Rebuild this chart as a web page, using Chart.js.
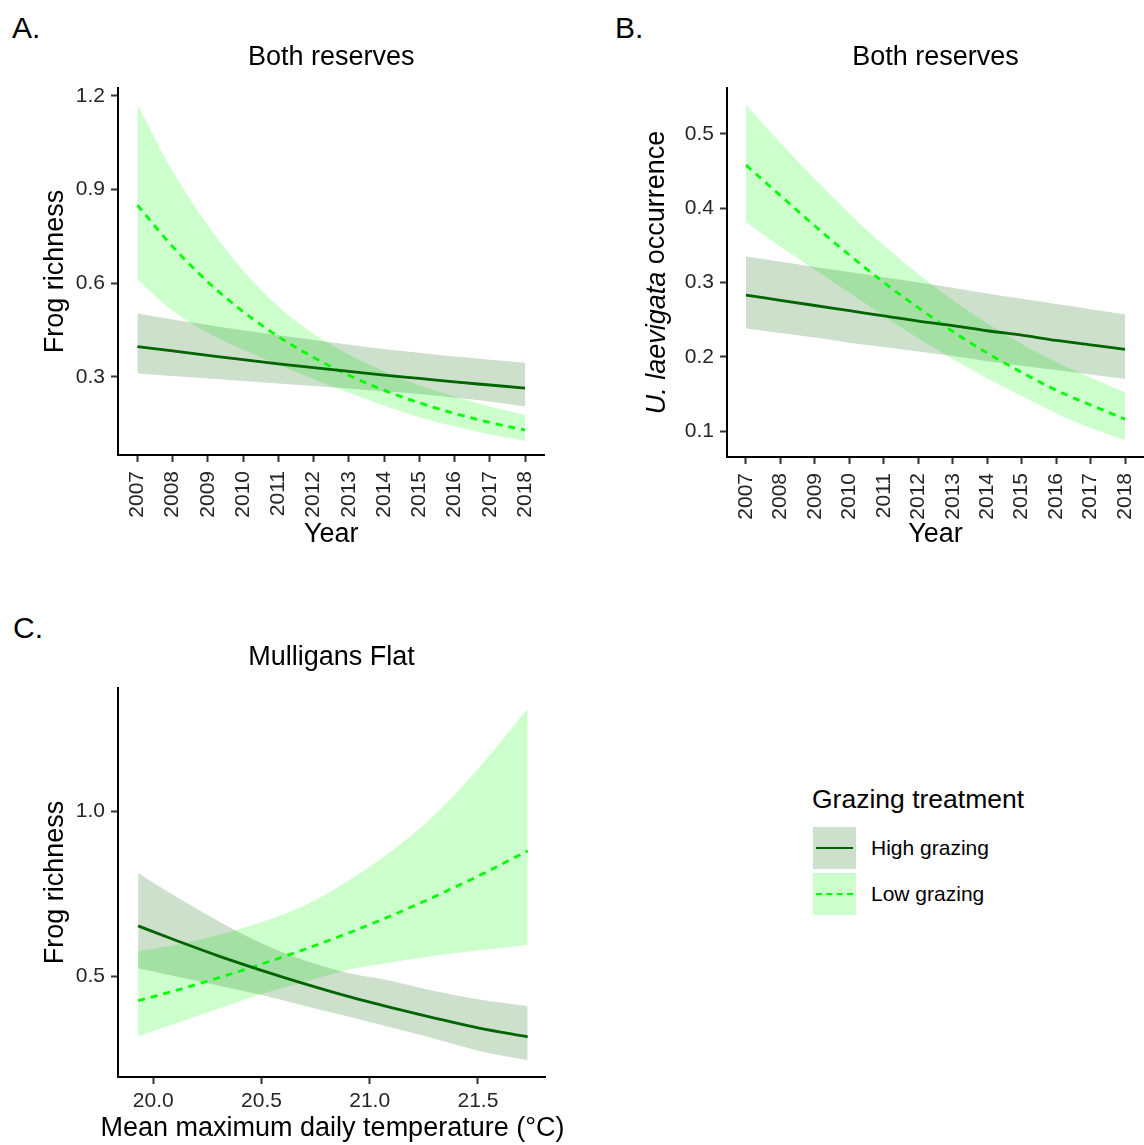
<!DOCTYPE html>
<html>
<head>
<meta charset="utf-8">
<script src="https://cdn.jsdelivr.net/npm/chart.js@4.4.0/dist/chart.umd.min.js"></script>
<style>
  html, body { margin: 0; padding: 0; background: #fff; width: 1144px; height: 1145px; overflow: hidden; }
  body { position: relative; font-family: "Liberation Sans", Arial, sans-serif; color: #000; }
  canvas { position: absolute; }
  .tag { position: absolute; font-size: 30px; line-height: 30px; }
  .legTitle { position: absolute; font-size: 26.5px; line-height: 30px; white-space: nowrap; }
  .legLabel { position: absolute; font-size: 21px; line-height: 24px; white-space: nowrap; }
  .key { position: absolute; width: 43px; height: 42px; }
  .key div { position: absolute; left: 3px; right: 3px; top: 20px; height: 0; }
</style>
</head>
<body>
<div class="tag" style="left:12px;top:13px">A.</div>
<div class="tag" style="left:615px;top:13px">B.</div>
<div class="tag" style="left:13px;top:613px">C.</div>

<canvas id="chartA" width="560" height="560" style="left:0;top:0"></canvas>
<canvas id="chartB" width="560" height="560" style="left:600px;top:0"></canvas>
<canvas id="chartC" width="580" height="545" style="left:0;top:600px"></canvas>

<div class="legTitle" style="left:812px;top:784px">Grazing treatment</div>
<div class="key" style="left:813px;top:827px;background:rgba(0,100,0,0.2)"><div style="border-top:2.5px solid #006400"></div></div>
<div class="key" style="left:813px;top:873px;background:rgba(0,255,0,0.2)"><div style="border-top:2.5px dashed #00ff00"></div></div>
<div class="legLabel" style="left:871px;top:836px">High grazing</div>
<div class="legLabel" style="left:871px;top:882px">Low grazing</div>

<script>
// ---- data ----
var years = [2007, 2008, 2009, 2010, 2011, 2012, 2013, 2014, 2015, 2016, 2017, 2018];

// A. frog richness, both reserves
var aHighMean  = [0.397, 0.383, 0.369, 0.355, 0.342, 0.330, 0.318, 0.306, 0.295, 0.284, 0.274, 0.264];
var aHighUpper = [0.503, 0.484, 0.466, 0.449, 0.433, 0.418, 0.403, 0.389, 0.377, 0.365, 0.355, 0.345];
var aHighLower = [0.311, 0.303, 0.295, 0.287, 0.279, 0.271, 0.263, 0.254, 0.245, 0.234, 0.221, 0.205];
var aLowMean   = [0.850, 0.717, 0.604, 0.509, 0.429, 0.362, 0.305, 0.257, 0.217, 0.183, 0.154, 0.130];
var aLowUpper  = [1.173, 0.958, 0.785, 0.640, 0.525, 0.437, 0.372, 0.318, 0.273, 0.237, 0.205, 0.178];
var aLowLower  = [0.612, 0.512, 0.441, 0.387, 0.339, 0.293, 0.249, 0.208, 0.171, 0.141, 0.116, 0.095];

// B. U. laevigata occurrence, both reserves
var bHighMean  = [0.283, 0.276, 0.269, 0.262, 0.255, 0.248, 0.242, 0.235, 0.229, 0.222, 0.216, 0.210];
var bHighUpper = [0.335, 0.328, 0.321, 0.314, 0.307, 0.300, 0.293, 0.285, 0.278, 0.271, 0.264, 0.257];
var bHighLower = [0.238, 0.232, 0.226, 0.219, 0.213, 0.207, 0.201, 0.194, 0.188, 0.182, 0.176, 0.170];
var bLowMean   = [0.458, 0.417, 0.376, 0.337, 0.300, 0.266, 0.234, 0.205, 0.179, 0.155, 0.135, 0.116];
var bLowUpper  = [0.539, 0.488, 0.439, 0.393, 0.350, 0.311, 0.276, 0.245, 0.217, 0.193, 0.172, 0.152];
var bLowLower  = [0.381, 0.348, 0.317, 0.286, 0.255, 0.225, 0.197, 0.171, 0.147, 0.124, 0.104, 0.088];

// C. frog richness vs temperature, Mulligans Flat
var temps      = [19.93, 20.1, 20.3, 20.5, 20.7, 20.9, 21.1, 21.3, 21.5, 21.73];
var cHighMean  = [0.653, 0.610, 0.562, 0.518, 0.477, 0.439, 0.405, 0.373, 0.343, 0.316];
var cHighUpper = [0.814, 0.744, 0.668, 0.600, 0.548, 0.510, 0.486, 0.455, 0.430, 0.409];
var cHighLower = [0.524, 0.500, 0.472, 0.443, 0.410, 0.378, 0.344, 0.310, 0.274, 0.245];
var cLowMean   = [0.426, 0.456, 0.495, 0.537, 0.582, 0.631, 0.684, 0.742, 0.804, 0.881];
var cLowUpper  = [0.576, 0.595, 0.625, 0.665, 0.715, 0.790, 0.880, 0.990, 1.130, 1.313];
var cLowLower  = [0.318, 0.356, 0.401, 0.446, 0.483, 0.520, 0.542, 0.562, 0.578, 0.595];

// tick labels
var yearTicks = years;
var aYTicks = [0.3, 0.6, 0.9, 1.2];
var bYTicks = [0.1, 0.2, 0.3, 0.4, 0.5];
var cYTicks = [0.5, 1.0];
var cXTicks = [20.0, 20.5, 21.0, 21.5];

// ---- styling ----
var FONT = '"Liberation Sans", Arial, sans-serif';
Chart.defaults.font.family = FONT;
Chart.defaults.color = '#262626';

var highLine = '#006400';
var lowLine = '#00ff00';
var highFill = 'rgba(0,100,0,0.2)';
var lowFill = 'rgba(0,255,0,0.2)';
var none = 'rgba(0,0,0,0)';

function pts(xs, ys) {
  return xs.map(function (x, i) { return { x: x, y: ys[i] }; });
}

function series(xs, hiM, hiU, hiL, loM, loU, loL) {
  var base = { pointRadius: 0, cubicInterpolationMode: 'monotone' };
  return [
    Object.assign({ data: pts(xs, hiU), borderColor: none, borderWidth: 1, fill: false }, base),
    Object.assign({ data: pts(xs, hiL), borderColor: none, borderWidth: 1, fill: '-1', backgroundColor: highFill }, base),
    Object.assign({ data: pts(xs, loU), borderColor: none, borderWidth: 1, fill: false }, base),
    Object.assign({ data: pts(xs, loL), borderColor: none, borderWidth: 1, fill: '-1', backgroundColor: lowFill }, base),
    Object.assign({ data: pts(xs, hiM), borderColor: highLine, borderWidth: 2.8, fill: false }, base),
    Object.assign({ data: pts(xs, loM), borderColor: lowLine, borderWidth: 2.8, borderDash: [7, 6], fill: false }, base)
  ];
}

function axis(min, max, ticks, fmt, size, extra) {
  var s = {
    type: 'linear',
    min: min,
    max: max,
    afterBuildTicks: function (sc) { sc.ticks = ticks.map(function (v) { return { value: v }; }); },
    grid: { display: true, drawOnChartArea: false, drawTicks: true, tickLength: 7, tickWidth: 2, tickColor: '#333' },
    border: { display: true, color: '#000', width: 2 },
    ticks: { font: { size: 21 }, color: '#262626', padding: 6, autoSkip: false, callback: fmt }
  };
  if (size.w) s.afterFit = function (sc) { sc.width = size.w; };
  if (size.h) s.afterFit = function (sc) { sc.height = size.h; };
  return Object.assign(s, extra || {});
}

function yTitle(text) {
  return { display: true, text: text, color: '#000', font: { size: 27 }, padding: { top: 9, bottom: 0 } };
}
function xTitle(text, pb) {
  return { display: true, text: text, color: '#000', font: { size: 27 }, padding: { top: 0, bottom: pb } };
}
function oneDec(v) { return v.toFixed(1); }
function plain(v) { return String(v); }

function build(id, datasets, title, scales, padRight, plugins) {
  return new Chart(document.getElementById(id), {
    type: 'line',
    data: { datasets: datasets },
    options: {
      responsive: false,
      animation: false,
      devicePixelRatio: 1,
      layout: { padding: { left: 30, right: padRight, top: 0, bottom: 0 } },
      plugins: {
        legend: { display: false },
        tooltip: { enabled: false },
        filler: { drawTime: 'beforeDatasetsDraw' },
        title: {
          display: true, text: title, fullSize: false, color: '#000',
          font: { size: 27, weight: 'normal' }, padding: { top: 41.5, bottom: 14 }
        }
      },
      scales: scales
    },
    plugins: plugins || []
  });
}

function rotateYears(id) {
  var ch = Chart.getChart(id);
  ch.options.scales.x.ticks.minRotation = 90;
  ch.options.scales.x.ticks.maxRotation = 90;
  ch.options.scales.x.ticks.padding = 9;
  ch.update();
}

// ---- A ----
build('chartA',
  series(years, aHighMean, aHighUpper, aHighLower, aLowMean, aLowUpper, aLowLower),
  'Both reserves',
  {
    x: axis(2006.45, 2018.55, yearTicks, plain, { h: 105 }, { title: xTitle('Year', 9) }),
    y: axis(0.05, 1.225, aYTicks, oneDec, { w: 88 }, { title: yTitle('Frog richness') })
  }, 15);
rotateYears('chartA');

// ---- B ----
var italicTitle = {
  id: 'italicTitle',
  afterDraw: function (chart) {
    var ctx = chart.ctx, a = chart.chartArea;
    var p1 = 'U. laevigata', p2 = ' occurrence';
    ctx.save();
    ctx.font = 'italic 27px ' + FONT;
    var w1 = ctx.measureText(p1).width;
    ctx.font = '27px ' + FONT;
    var w2 = ctx.measureText(p2).width;
    ctx.translate(57, (a.top + a.bottom) / 2);
    ctx.rotate(-Math.PI / 2);
    ctx.textBaseline = 'middle';
    ctx.textAlign = 'left';
    ctx.fillStyle = '#000';
    var x0 = -(w1 + w2) / 2;
    ctx.font = 'italic 27px ' + FONT;
    ctx.fillText(p1, x0, 0);
    ctx.font = '27px ' + FONT;
    ctx.fillText(p2, x0 + w1, 0);
    ctx.restore();
  }
};

build('chartB',
  series(years, bHighMean, bHighUpper, bHighLower, bLowMean, bLowUpper, bLowLower),
  'Both reserves',
  {
    x: axis(2006.45, 2018.55, yearTicks, plain, { h: 103 }, { title: xTitle('Year', 9) }),
    y: axis(0.065, 0.562, bYTicks, oneDec, { w: 97 })
  }, 11, [italicTitle]);
rotateYears('chartB');

// ---- C ----
// the temperature title is wider than the plot box, so it is drawn here instead of by the scale
var tempTitle = {
  id: 'tempTitle',
  afterDraw: function (chart) {
    var ctx = chart.ctx, a = chart.chartArea;
    ctx.save();
    ctx.font = '27px ' + FONT;
    ctx.textAlign = 'center';
    ctx.textBaseline = 'middle';
    ctx.fillStyle = '#000';
    ctx.fillText('Mean maximum daily temperature (\u00B0C)', (a.left + a.right) / 2 + 1, 529);
    ctx.restore();
  }
};

build('chartC',
  series(temps, cHighMean, cHighUpper, cHighLower, cLowMean, cLowUpper, cLowLower),
  'Mulligans Flat',
  {
    x: axis(19.837, 21.81, cXTicks, oneDec, { h: 68 }),
    y: axis(0.194, 1.376, cYTicks, oneDec, { w: 88 }, { title: yTitle('Frog richness') })
  }, 35, [tempTitle]);
Chart.getChart('chartC').options.scales.x.ticks.padding = 5;
Chart.getChart('chartC').update();
</script>
</body>
</html>
